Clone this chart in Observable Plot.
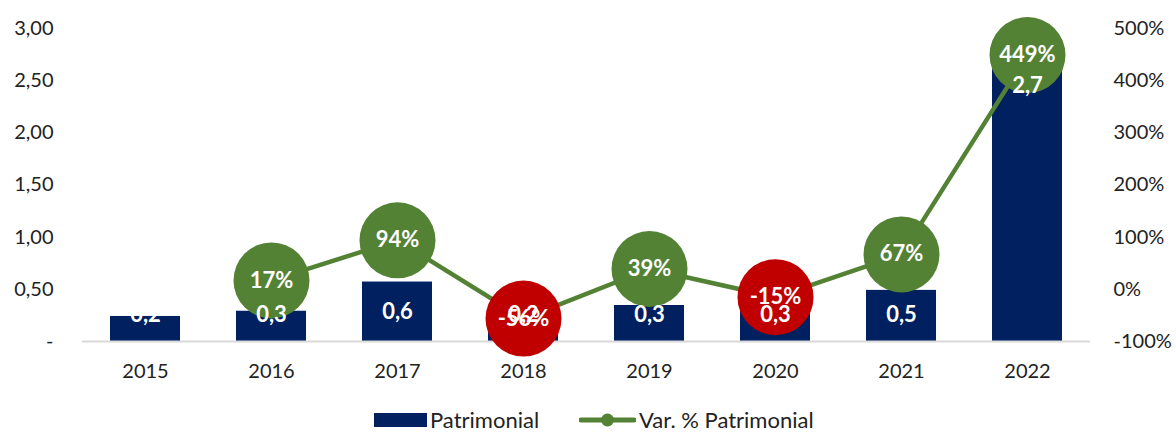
<!DOCTYPE html>
<html>
<head>
<meta charset="utf-8">
<script src="https://cdn.jsdelivr.net/npm/d3@7"></script>
<script src="https://cdn.jsdelivr.net/npm/@observablehq/plot@0.6"></script>
<style>
  body { margin: 0; background: #fff; font-family: Lato, "Open Sans", sans-serif; overflow: hidden; }
  #legend { display: flex; justify-content: flex-start; align-items: center; gap: 40px; height: 22px; line-height: 22px; margin-top: 9px; font-size: 22px; color: #222; padding-left: 374px; }
  .item { display: flex; align-items: center; gap: 3px; }
</style>
</head>
<body>
<div id="chart"></div>
<div id="legend">
  <div class="item"><svg width="53" height="14"><rect x="0" y="0" width="53" height="14" fill="#002060"/></svg><span>Patrimonial</span></div>
  <div class="item"><svg width="57" height="16"><line x1="2" x2="55" y1="8" y2="8" stroke="#548235" stroke-width="5" stroke-linecap="round"/><circle cx="28.5" cy="8" r="6.5" fill="#548235"/></svg><span>Var. % Patrimonial</span></div>
</div>
<script>
const years = ["2015","2016","2017","2018","2019","2020","2021","2022"];
const patrimonial = [0.24, 0.29, 0.57, 0.24, 0.345, 0.30, 0.49, 2.66];
const varYears = ["2016","2017","2018","2019","2020","2021","2022"];
const varPct = [17, 94, -56, 39, -15, 67, 449];
const leftTicks = [0, 0.5, 1, 1.5, 2, 2.5, 3];
const rightTicks = [-100, 0, 100, 200, 300, 400, 500];

const pctToLeft = p => (p + 100) / 200; // right axis -100..500 onto left 0..3
const fmtLeft = d => d === 0 ? "-" : d.toFixed(2).replace(".", ",");
const fmtBar = d => d.toFixed(1).replace(".", ",");

const bars = years.map((y, i) => ({year: y, v: patrimonial[i]}));
const line = varYears.map((y, i) => ({year: y, p: varPct[i], ly: pctToLeft(varPct[i])}));
const barLabelY = v => v > 1 ? v - 0.21 : Math.max(v / 2, 0.25);

const chart = Plot.plot({
  width: 1176,
  height: 400,
  marginLeft: 82,
  marginRight: 86,
  marginTop: 28,
  marginBottom: 59,
  style: {fontFamily: "Lato, 'Open Sans', sans-serif", fontSize: "20px", color: "#222"},
  x: {domain: years, paddingInner: 0.444, paddingOuter: 0.222, label: null},
  y: {domain: [0, 3], label: null},
  marks: [
    Plot.axisY(leftTicks, {anchor: "left", tickSize: 0, tickPadding: 29, tickFormat: fmtLeft, label: null, fontSize: 20}),
    Plot.axisY(rightTicks.map(pctToLeft), {anchor: "right", tickSize: 0, tickPadding: 23, tickFormat: d => Math.round(d * 200 - 100) + "%", label: null, fontSize: 20, textAnchor: "start"}),
    Plot.axisX({tickSize: 0, tickPadding: 22, label: null, fontSize: 20}),
    Plot.barY(bars, {x: "year", y: "v", fill: "#002060"}),
    Plot.ruleY([0], {stroke: "#d9d9d9", strokeWidth: 2}),
    Plot.line(line, {x: "year", y: "ly", stroke: "#548235", strokeWidth: 4.5}),
    Plot.dot(line, {x: "year", y: "ly", r: 38, fill: d => d.p < 0 ? "#C00000" : "#548235", stroke: null}),
    Plot.text(line, {x: "year", y: "ly", text: d => d.p + "%", fill: "white", fontWeight: "bold", fontSize: 22}),
    Plot.text(bars, {x: "year", y: d => barLabelY(d.v), text: d => fmtBar(d.v), fill: "white", fontWeight: "bold", fontSize: 22})
  ]
});
document.getElementById("chart").appendChild(chart);
</script>
</body>
</html>
